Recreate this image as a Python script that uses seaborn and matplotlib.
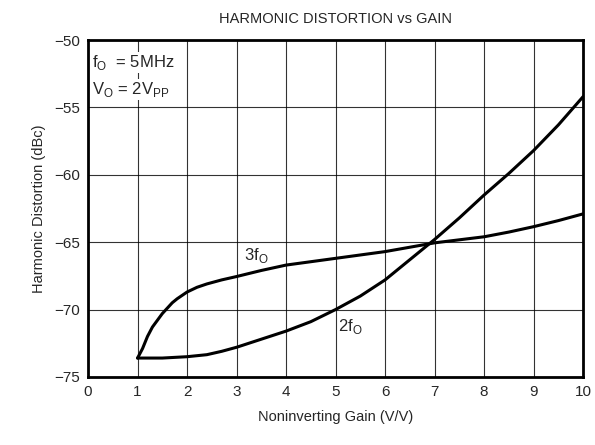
import pandas as pd
import matplotlib
matplotlib.use("Agg")
import matplotlib.pyplot as plt
import seaborn as sns

# values
gain_3f = [1.0, 1.1, 1.2, 1.3, 1.4, 1.5, 1.6, 1.7, 1.8, 1.9, 2.0, 2.2, 2.4, 2.7, 3.0, 3.5, 4.0,
           5.0, 6.0, 7.0, 8.0, 8.5, 9.0, 9.5, 10.0]
dist_3f = [-73.6, -72.9, -72.0, -71.3, -70.8, -70.3, -69.9, -69.5, -69.2, -68.95, -68.7, -68.35,
           -68.1, -67.8, -67.55, -67.1, -66.7, -66.2, -65.7, -65.05, -64.6, -64.25, -63.85,
           -63.4, -62.9]

gain_2f = [1.0, 1.5, 2.0, 2.4, 2.7, 3.0, 3.5, 4.0, 4.5, 5.0, 5.5, 6.0, 6.5, 7.0, 7.5, 8.0, 8.5,
           9.0, 9.5, 10.0]
dist_2f = [-73.6, -73.6, -73.5, -73.35, -73.1, -72.8, -72.2, -71.6, -70.9, -70.0, -69.0, -67.8,
           -66.3, -64.8, -63.2, -61.5, -59.9, -58.2, -56.3, -54.2]

x_ticks = list(range(0, 11))
y_ticks = [-75, -70, -65, -60, -55, -50]

df = pd.concat([
    pd.DataFrame({"gain": gain_3f, "dist": dist_3f, "harmonic": "3fO"}),
    pd.DataFrame({"gain": gain_2f, "dist": dist_2f, "harmonic": "2fO"}),
])

sns.set_style("white")
plt.rcParams["font.family"] = ["Liberation Sans", "DejaVu Sans"]
plt.rcParams["mathtext.fontset"] = "custom"
plt.rcParams["mathtext.rm"] = "Liberation Sans"

fig = plt.figure(figsize=(5.95, 4.45), dpi=100)
ax = fig.add_axes([0.148, 0.153, 0.832, 0.757])

sns.lineplot(data=df, x="gain", y="dist", units="harmonic", estimator=None,
             color="black", linewidth=2.2, sort=False, ax=ax)

ax.set_xlim(0, 10)
ax.set_ylim(-75, -50)
ax.set_xticks(x_ticks)
ax.set_yticks(y_ticks)
ax.grid(True, color="black", linewidth=0.8, alpha=0.8)
ax.tick_params(length=0, labelsize=11, pad=6)
for s in ax.spines.values():
    s.set_linewidth(2)
    s.set_color("black")

ax.set_xlabel("Noninverting Gain (V/V)", fontsize=10.5, labelpad=8)
ax.set_ylabel("Harmonic Distortion (dBc)", fontsize=10.5, labelpad=6)
ax.set_title("HARMONIC DISTORTION vs GAIN", fontsize=10.5, pad=12)

ax.text(3.15, -66.3, r"3f$_\mathregular{O}$", fontsize=12)
ax.text(5.05, -71.6, r"2f$_\mathregular{O}$", fontsize=12)
ax.text(0.08, -52.0, r"f$_\mathregular{O}$  = 5MHz", fontsize=12,
        bbox=dict(facecolor="white", edgecolor="none", pad=1))
ax.text(0.08, -54.0, r"V$_\mathregular{O}$ = 2V$_\mathregular{PP}$", fontsize=12,
        bbox=dict(facecolor="white", edgecolor="none", pad=1))

fig.savefig("out.png", dpi=100)
